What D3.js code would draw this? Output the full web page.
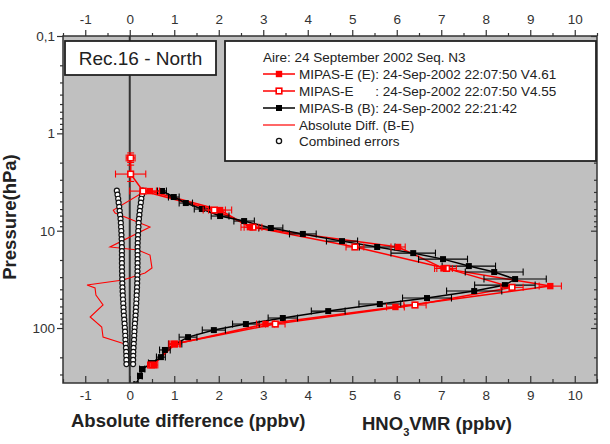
<!DOCTYPE html>
<html><head><meta charset="utf-8">
<script src="https://cdn.jsdelivr.net/npm/d3@7"></script>
<style>body{margin:0;background:#fff}svg{display:block;font-family:"Liberation Sans",Arial,sans-serif}</style>
</head><body><svg id="c" width="610" height="444"></svg>
<script>
// ---- data ----
const xTicks = [-1,0,1,2,3,4,5,6,7,8,9,10];
const xMinor = [-1.5,-0.5,0.5,1.5,2.5,3.5,4.5,5.5,6.5,7.5,8.5,9.5,10.5];
const yTicks = [0.1,1,10,100];
const yTickLabels = ["0,1","1","10","100"];
const yMinor = [0.2,0.3,0.4,0.5,0.6,0.7,0.8,0.9,2,3,4,5,6,7,8,9,20,30,40,50,60,70,80,90,200,300];

// MIPAS-B (B)
const bPres = [3.91,4.51,5.20,5.99,7.07,7.96,9.39,10.8,12.8,14.7,17.0,19.6,23.1,26.6,31.4,36.2,41.7,49.2,56.7,67.0,78.9,91.0,105,124,146,168,199,229,264,311,380];
const bVmr  = [0.725,0.99,1.26,1.62,2.03,2.57,3.17,3.89,4.77,5.56,6.37,7.04,7.62,8.19,8.66,8.43,7.74,6.68,5.62,4.46,3.44,2.61,1.89,1.31,1.02,0.79,0.70,0.50,0.28,0.23,0.14];
const bErr  = [0.1,0.12,0.15,0.17,0.2,0.23,0.27,0.3,0.35,0.4,0.5,0.55,0.6,0.65,0.7,0.68,0.62,0.55,0.47,0.38,0.33,0.3,0.26,0.2,0.15,0.12,0.1,0.08,0.06,0.05,0.04];

// MIPAS-E (E) V4.61
const e1Pres = [3.92,6.14,9.2,14.7,24.4,37.1,60.8,91,146,240];
const e1Vmr  = [0.45,2.03,2.7,6.03,7.05,9.45,5.97,3.05,1.02,0.53];
const e1Err  = [0.22,0.26,0.2,0.16,0.2,0.25,0.2,0.2,0.12,0.1];

// MIPAS-E V4.55
const e2Pres = [1.79,2.62,3.92,6.14,9.2,14.7,24.4,38.2,58,91,146,240];
const e2Vmr  = [0.02,0.02,0.3,1.9,2.77,5.06,7.12,8.59,6.41,3.27,1.0,0.5];
const e2Err  = [0.1,0.34,0.3,0.25,0.2,0.2,0.22,0.25,0.25,0.22,0.12,0.1];
const e2PErr = [0.2,0.5,0,0,0,0,0,0,0,0,0,0];

// Absolute Diff (B-E)
const dPres = [4.10,6.14,6.59,9.16,14.7,15.8,17.8,24.2,27.2,32.1,36.2,38.8,45.8,58.0,77.1,97.7,124,144];
const dVal  = [0.275,-0.37,-0.33,0.455,-0.444,0.185,0.455,0.5,0.343,-0.152,-0.96,-0.78,-0.76,-0.6,-0.89,-0.63,-0.6,-0.145];

// Combined errors
const cPres = [3.88,4.27,4.70,5.16,5.68,6.25,6.88,7.57,8.32,9.16,10.07,11.09,12.19,13.40,14.76,16.22,17.82,19.63,21.58,23.77,26.12,28.71,31.62,34.75,38.28,42.07,46.24,50.93,55.98,61.66,67.76,74.47,82.04,90.16,99.3,109.1,120.0,132.1,145.2,160.0,175.8,193.2,212.8,234.4];
const cErr  = [0.29,0.275,0.26,0.25,0.236,0.226,0.217,0.207,0.2,0.196,0.19,0.186,0.182,0.179,0.176,0.176,0.176,0.176,0.176,0.175,0.174,0.172,0.17,0.167,0.164,0.16,0.155,0.151,0.146,0.141,0.136,0.13,0.123,0.116,0.11,0.105,0.1,0.096,0.09,0.085,0.08,0.078,0.076,0.075];

const legendTitle = "Aire: 24 September 2002 Seq. N3";
const legendItems = ["MIPAS-E (E): 24-Sep-2002 22:07:50 V4.61","MIPAS-E", "MIPAS-B (B): 24-Sep-2002 22:21:42","Absolute Diff. (B-E)","Combined errors"];
const legendItem2Rest = ": 24-Sep-2002 22:07:50 V4.55";

// ---- chart ----
const svg = d3.select("#c");
const L=63,R=597,T=36,B=383;
const x = d3.scaleLinear().domain([-1.5,10.5]).range([L,R]);
const y = d3.scaleLog().domain([0.1,367]).range([T,B]);
const RED="#ff0000";

svg.append("defs").append("clipPath").attr("id","clip")
  .append("rect").attr("x",L).attr("y",T).attr("width",R-L).attr("height",B-T);
svg.append("rect").attr("x",L).attr("y",T).attr("width",R-L).attr("height",B-T).attr("fill","#c0c0c0");

const g = svg.append("g").attr("clip-path","url(#clip)");

// zero line
g.append("line").attr("x1",x(0)).attr("x2",x(0)).attr("y1",T).attr("y2",B)
  .attr("stroke","#333").attr("stroke-width",2);

// absolute difference
const dData = dPres.map((p,i)=>({p,v:dVal[i]}));
g.append("path").datum(dData).attr("fill","none").attr("stroke",RED).attr("stroke-width",1.1)
  .attr("d",d3.line().x(d=>x(d.v)).y(d=>y(d.p)));

// combined errors
const cData = [];
cPres.forEach((p,i)=>{cData.push({p,v:-cErr[i]});cData.push({p,v:cErr[i]});});
g.selectAll("circle.ce").data(cData).enter().append("circle")
  .attr("cx",d=>x(d.v)).attr("cy",d=>y(d.p)).attr("r",2.5)
  .attr("fill","#fff").attr("stroke","#111").attr("stroke-width",1.2);

function series(pres, vmr, err, pErr){
  return pres.map((p,i)=>({p, v:vmr[i], e:err[i], pe: pErr? pErr[i]:0}));
}
const bData = series(bPres,bVmr,bErr);
const e1Data = series(e1Pres,e1Vmr,e1Err);
const e2Data = series(e2Pres,e2Vmr,e2Err,e2PErr);
const line = d3.line().x(d=>x(d.v)).y(d=>y(d.p));

function errBars(data, color, cap){
  const eg = g.append("g").attr("stroke",color).attr("stroke-width",1.1).attr("fill","none");
  data.forEach(d=>{
    const yy=y(d.p), x0=x(d.v-d.e), x1=x(d.v+d.e);
    eg.append("line").attr("x1",x0).attr("x2",x1).attr("y1",yy).attr("y2",yy);
    eg.append("line").attr("x1",x0).attr("x2",x0).attr("y1",yy-cap).attr("y2",yy+cap);
    eg.append("line").attr("x1",x1).attr("x2",x1).attr("y1",yy-cap).attr("y2",yy+cap);
    if(d.pe>0){
      const xx=x(d.v), y0=y(d.p-d.pe), y1=y(d.p+d.pe);
      eg.append("line").attr("x1",xx).attr("x2",xx).attr("y1",y0).attr("y2",y1);
      eg.append("line").attr("x1",xx-cap).attr("x2",xx+cap).attr("y1",y0).attr("y2",y0);
      eg.append("line").attr("x1",xx-cap).attr("x2",xx+cap).attr("y1",y1).attr("y2",y1);
    }
  });
}

// E lines first
g.append("path").datum(e2Data).attr("fill","none").attr("stroke",RED).attr("stroke-width",1.5).attr("d",line);
g.append("path").datum(e1Data).attr("fill","none").attr("stroke",RED).attr("stroke-width",1.5).attr("d",line);

// B series
errBars(bData,"#000",3.5);
g.append("path").datum(bData).attr("fill","none").attr("stroke","#000").attr("stroke-width",1.5).attr("d",line);
g.selectAll("rect.b").data(bData).enter().append("rect")
  .attr("x",d=>x(d.v)-3).attr("y",d=>y(d.p)-3).attr("width",6).attr("height",6).attr("fill","#000");

// E markers
errBars(e2Data,RED,3.5);
errBars(e1Data,RED,3.5);
g.selectAll("rect.e2").data(e2Data).enter().append("rect")
  .attr("x",d=>x(d.v)-2.8).attr("y",d=>y(d.p)-2.8).attr("width",5.6).attr("height",5.6)
  .attr("fill","#fff").attr("stroke",RED).attr("stroke-width",1.6);
g.selectAll("rect.e1").data(e1Data).enter().append("rect")
  .attr("x",d=>x(d.v)-3.2).attr("y",d=>y(d.p)-3.2).attr("width",6.4).attr("height",6.4).attr("fill",RED);

// ---- axes ----
function styleAxis(sel){
  sel.select(".domain").remove();
  sel.selectAll("line").attr("stroke","#333").attr("stroke-width",1.2);
  sel.selectAll("text").attr("font-size",13.5).attr("fill","#333")
     .attr("font-family",'"Liberation Sans",Arial,sans-serif');
}
const fmtX = d=>String(d);
svg.append("g").attr("transform",`translate(0,${T})`)
  .call(d3.axisTop(x).tickValues(xTicks).tickSize(6).tickPadding(6).tickFormat(fmtX)).call(styleAxis);
svg.append("g").attr("transform",`translate(0,${T})`)
  .call(d3.axisTop(x).tickValues(xMinor).tickSize(3).tickFormat("")).call(styleAxis);
svg.append("g").attr("transform",`translate(0,${B})`)
  .call(d3.axisBottom(x).tickValues(xTicks).tickSizeInner(-7).tickSizeOuter(0).tickPadding(7).tickFormat(fmtX)).call(styleAxis);
svg.append("g").attr("transform",`translate(0,${B})`)
  .call(d3.axisBottom(x).tickValues(xMinor).tickSizeInner(-4).tickSizeOuter(0).tickFormat("")).call(styleAxis);
svg.append("g").attr("transform",`translate(${L},0)`)
  .call(d3.axisLeft(y).tickValues(yTicks).tickSize(6).tickPadding(2).tickFormat((d,i)=>yTickLabels[i])).call(styleAxis);
svg.append("g").attr("transform",`translate(${L},0)`)
  .call(d3.axisLeft(y).tickValues(yMinor).tickSize(3).tickFormat("")).call(styleAxis);
svg.append("g").attr("transform",`translate(${R},0)`)
  .call(d3.axisRight(y).tickValues(yTicks).tickSizeInner(-6).tickSizeOuter(0).tickFormat("")).call(styleAxis);
svg.append("g").attr("transform",`translate(${R},0)`)
  .call(d3.axisRight(y).tickValues(yMinor).tickSizeInner(-3).tickSizeOuter(0).tickFormat("")).call(styleAxis);

// frame
svg.append("rect").attr("x",L).attr("y",T).attr("width",R-L).attr("height",B-T)
  .attr("fill","none").attr("stroke","#333").attr("stroke-width",1.5);

// ---- title box ----
svg.append("rect").attr("x",65).attr("y",41).attr("width",151).attr("height",34)
  .attr("fill","#fff").attr("stroke","#222").attr("stroke-width",1.8);
svg.append("text").attr("x",140.5).attr("y",58).attr("dy","0.35em").attr("text-anchor","middle")
  .attr("font-size",19).attr("fill","#222").text("Rec.16 - North");

// ---- legend ----
svg.append("rect").attr("x",225).attr("y",41).attr("width",371).attr("height",120)
  .attr("fill","#fff").attr("stroke","#222").attr("stroke-width",1.8);
const lg = svg.append("g").attr("font-size",13.5).attr("fill","#222");
lg.append("text").attr("x",263).attr("y",57).attr("dy","0.35em").text(legendTitle);
const rowY=[74,91,108,125,141];
const tx=299, mx=279;
legendItems.forEach((t,i)=>{
  const yy=rowY[i];
  if(i<4){
    lg.append("line").attr("x1",263).attr("x2",295).attr("y1",yy).attr("y2",yy)
      .attr("stroke", i===2?"#000":RED).attr("stroke-width", i===3?1.2:1.5);
  }
  if(i===0) lg.append("rect").attr("x",mx-3.2).attr("y",yy-3.2).attr("width",6.4).attr("height",6.4).attr("fill",RED);
  if(i===1) lg.append("rect").attr("x",mx-2.8).attr("y",yy-2.8).attr("width",5.6).attr("height",5.6).attr("fill","#fff").attr("stroke",RED).attr("stroke-width",1.6);
  if(i===2) lg.append("rect").attr("x",mx-3).attr("y",yy-3).attr("width",6).attr("height",6).attr("fill","#000");
  if(i===4) lg.append("circle").attr("cx",mx).attr("cy",yy).attr("r",2.6).attr("fill","#fff").attr("stroke","#111").attr("stroke-width",1.3);
  lg.append("text").attr("x",tx).attr("y",yy).attr("dy","0.35em").text(t);
});
// align colon of second entry with first
const tmp = lg.append("text").attr("x",-1000).attr("y",-1000).text("MIPAS-E (E)");
const wE = tmp.node().getComputedTextLength(); tmp.remove();
lg.append("text").attr("x",tx+wE).attr("y",rowY[1]).attr("dy","0.35em").text(legendItem2Rest);

// ---- axis titles ----
svg.append("text").attr("transform","translate(16,217) rotate(-90)").attr("text-anchor","middle")
  .attr("font-size",18.5).attr("font-weight","bold").attr("fill","#222").text("Pressure(hPa)");
svg.append("text").attr("x",71).attr("y",427).attr("font-size",18.5).attr("font-weight","bold").attr("fill","#222")
  .text("Absolute difference (ppbv)");
const ht = svg.append("text").attr("x",362).attr("y",430).attr("font-size",18.5).attr("font-weight","bold").attr("fill","#222");
ht.append("tspan").text("HNO");
ht.append("tspan").attr("dy",6).attr("font-size",11).text("3");
ht.append("tspan").attr("dy",-6).text("VMR (ppbv)");
</script>
</body></html>
